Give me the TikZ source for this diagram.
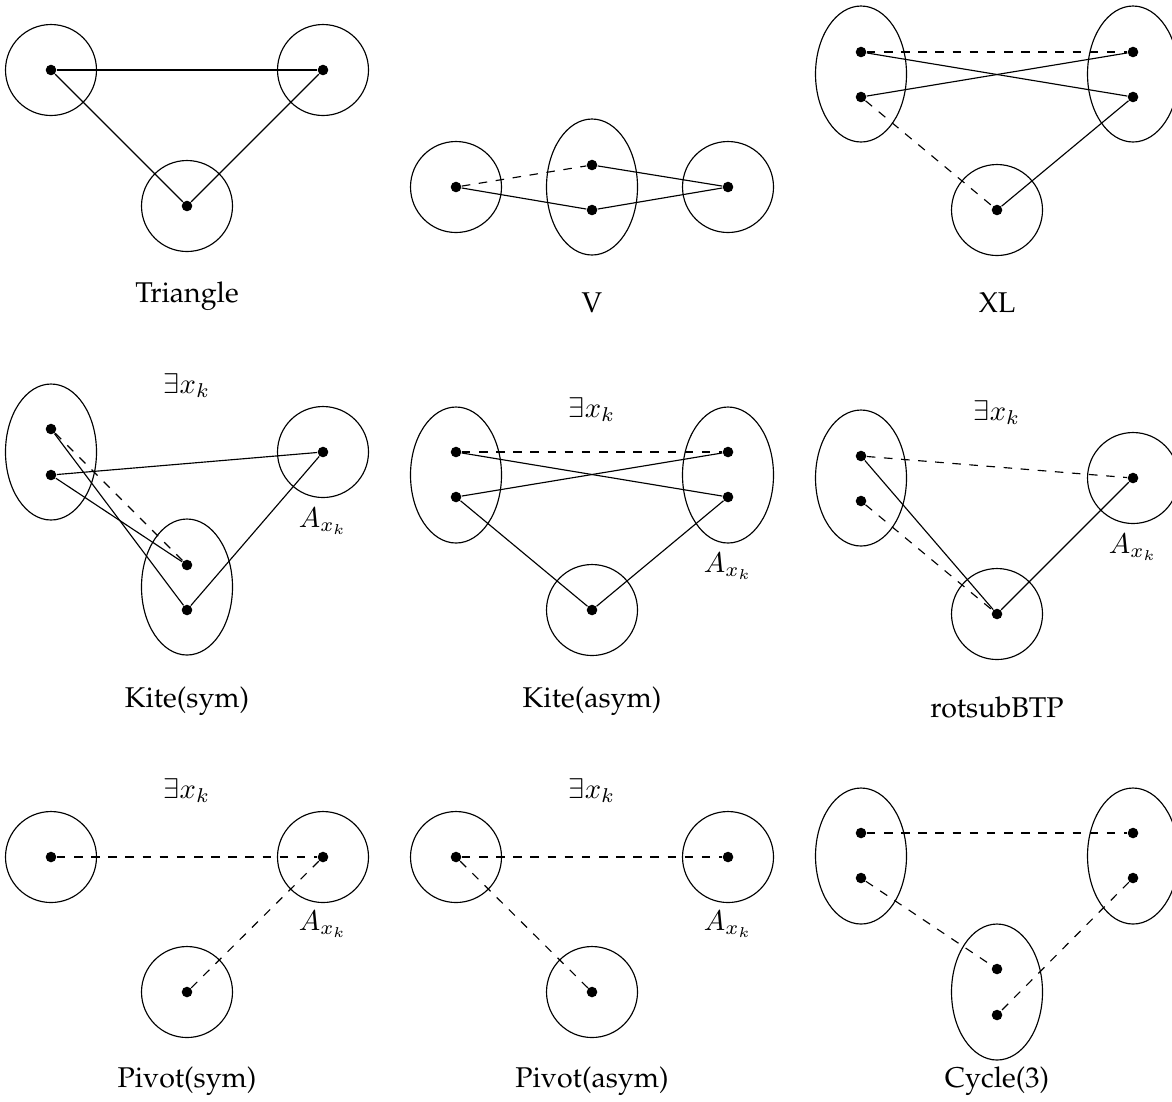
\documentclass[tikz,border=0pt]{standalone}
\usepackage[T1]{fontenc}
\renewcommand{\rmdefault}{ppl}
\usetikzlibrary{shapes.geometric}
\begin{document}
\begin{tikzpicture}[x=0.35pt,y=-0.35pt,
  dot/.style={circle,fill=black,inner sep=0pt,minimum size=3.7pt},
  cgrp/.style={circle,draw,inner sep=0pt,minimum size=31.85pt},
  egrp/.style={ellipse,draw,inner sep=0pt,minimum width=31.85pt,minimum height=47.6pt},
  captxt/.style={anchor=base,inner sep=0pt},
  mlab/.style={anchor=base,inner sep=0pt}]
\useasboundingbox (0,0) rectangle (1172,1101);

% ---------- Triangle ----------
\node[cgrp] (t-ga) at (51,70) {};
\node[cgrp] (t-gb) at (323,70) {};
\node[cgrp] (t-gc) at (187,206) {};
\node[dot] (t-a) at (51,70) {};
\node[dot] (t-b) at (323,70) {};
\node[dot] (t-c) at (187,206) {};
\draw (t-a) -- (t-b);
\draw (t-a) -- (t-c);
\draw (t-b) -- (t-c);
\node[captxt] (t-cap) at (187,302) {Triangle};

% ---------- V ----------
\node[cgrp] (v-ga) at (456,187) {};
\node[egrp] (v-gb) at (592,187) {};
\node[cgrp] (v-gc) at (728,187) {};
\node[dot] (v-a) at (456,187) {};
\node[dot] (v-b1) at (592,165) {};
\node[dot] (v-b2) at (592,210) {};
\node[dot] (v-c) at (728,187) {};
\draw[dashed] (v-a) -- (v-b1);
\draw (v-a) -- (v-b2);
\draw (v-b1) -- (v-c);
\draw (v-b2) -- (v-c);
\node[captxt] (v-cap) at (592,312) {V};

% ---------- XL ----------
\node[egrp] (x-ga) at (861,74) {};
\node[egrp] (x-gb) at (1133,74) {};
\node[cgrp] (x-gc) at (997,210) {};
\node[dot] (x-a1) at (861,52) {};
\node[dot] (x-a2) at (861,97) {};
\node[dot] (x-b1) at (1133,52) {};
\node[dot] (x-b2) at (1133,97) {};
\node[dot] (x-c) at (997,210) {};
\draw[dashed] (x-a1) -- (x-b1);
\draw (x-a1) -- (x-b2);
\draw (x-a2) -- (x-b1);
\draw[dashed] (x-a2) -- (x-c);
\draw (x-b2) -- (x-c);
\node[captxt] (x-cap) at (997,312) {XL};

% ---------- Kite(sym) ----------
\node[egrp] (ks-ga) at (51,452) {};
\node[cgrp] (ks-gb) at (323,452) {};
\node[egrp] (ks-gc) at (187,587) {};
\node[dot] (ks-a1) at (51,429) {};
\node[dot] (ks-a2) at (51,475) {};
\node[dot] (ks-b) at (323,452) {};
\node[dot] (ks-c1) at (187,565) {};
\node[dot] (ks-c2) at (187,610) {};
\draw[dashed] (ks-a1) -- (ks-c1);
\draw (ks-a1) -- (ks-c2);
\draw (ks-a2) -- (ks-c1);
\draw (ks-a2) -- (ks-b);
\draw (ks-b) -- (ks-c2);
\node[mlab] (ks-ex) at (187,393) {$\exists x_k$};
\node[mlab] (ks-ax) at (323,527) {$A_{x_k}$};
\node[captxt] (ks-cap) at (187,707) {Kite(sym)};

% ---------- Kite(asym) ----------
\node[egrp] (ka-ga) at (456,475) {};
\node[egrp] (ka-gb) at (728,475) {};
\node[cgrp] (ka-gc) at (592,610) {};
\node[dot] (ka-a1) at (456,452) {};
\node[dot] (ka-a2) at (456,497) {};
\node[dot] (ka-b1) at (728,452) {};
\node[dot] (ka-b2) at (728,497) {};
\node[dot] (ka-c) at (592,610) {};
\draw[dashed] (ka-a1) -- (ka-b1);
\draw (ka-a1) -- (ka-b2);
\draw (ka-a2) -- (ka-b1);
\draw (ka-a2) -- (ka-c);
\draw (ka-b2) -- (ka-c);
\node[mlab] (ka-ex) at (592,417) {$\exists x_k$};
\node[mlab] (ka-ax) at (728,572) {$A_{x_k}$};
\node[captxt] (ka-cap) at (592,707) {Kite(asym)};

% ---------- rotsubBTP ----------
\node[egrp] (r-ga) at (861,478) {};
\node[cgrp] (r-gb) at (1133,478) {};
\node[cgrp] (r-gc) at (997,614) {};
\node[dot] (r-a1) at (861,456) {};
\node[dot] (r-a2) at (861,501) {};
\node[dot] (r-b) at (1133,478) {};
\node[dot] (r-c) at (997,614) {};
\draw[dashed] (r-a1) -- (r-b);
\draw[dashed] (r-a2) -- (r-c);
\draw (r-a1) -- (r-c);
\draw (r-b) -- (r-c);
\node[mlab] (r-ex) at (997,420) {$\exists x_k$};
\node[mlab] (r-ax) at (1133,553) {$A_{x_k}$};
\node[captxt] (r-cap) at (997,717) {rotsubBTP};

% ---------- Pivot(sym) ----------
\node[cgrp] (ps-ga) at (51,857) {};
\node[cgrp] (ps-gb) at (323,857) {};
\node[cgrp] (ps-gc) at (187,992) {};
\node[dot] (ps-a) at (51,857) {};
\node[dot] (ps-b) at (323,857) {};
\node[dot] (ps-c) at (187,992) {};
\draw[dashed] (ps-a) -- (ps-b);
\draw[dashed] (ps-b) -- (ps-c);
\node[mlab] (ps-ex) at (187,798) {$\exists x_k$};
\node[mlab] (ps-ax) at (323,930) {$A_{x_k}$};
\node[captxt] (ps-cap) at (187,1087) {Pivot(sym)};

% ---------- Pivot(asym) ----------
\node[cgrp] (pa-ga) at (456,857) {};
\node[cgrp] (pa-gb) at (728,857) {};
\node[cgrp] (pa-gc) at (592,992) {};
\node[dot] (pa-a) at (456,857) {};
\node[dot] (pa-b) at (728,857) {};
\node[dot] (pa-c) at (592,992) {};
\draw[dashed] (pa-a) -- (pa-b);
\draw[dashed] (pa-a) -- (pa-c);
\node[mlab] (pa-ex) at (592,798) {$\exists x_k$};
\node[mlab] (pa-ax) at (728,930) {$A_{x_k}$};
\node[captxt] (pa-cap) at (592,1087) {Pivot(asym)};

% ---------- Cycle(3) ----------
\node[egrp] (cy-ga) at (861,856) {};
\node[egrp] (cy-gb) at (1133,856) {};
\node[egrp] (cy-gc) at (997,992) {};
\node[dot] (cy-a1) at (861,833) {};
\node[dot] (cy-a2) at (861,878) {};
\node[dot] (cy-b1) at (1133,833) {};
\node[dot] (cy-b2) at (1133,878) {};
\node[dot] (cy-c1) at (997,969) {};
\node[dot] (cy-c2) at (997,1015) {};
\draw[dashed] (cy-a1) -- (cy-b1);
\draw[dashed] (cy-a2) -- (cy-c1);
\draw[dashed] (cy-b2) -- (cy-c2);
\node[captxt] (cy-cap) at (997,1087) {Cycle(3)};
\end{tikzpicture}
\end{document}
